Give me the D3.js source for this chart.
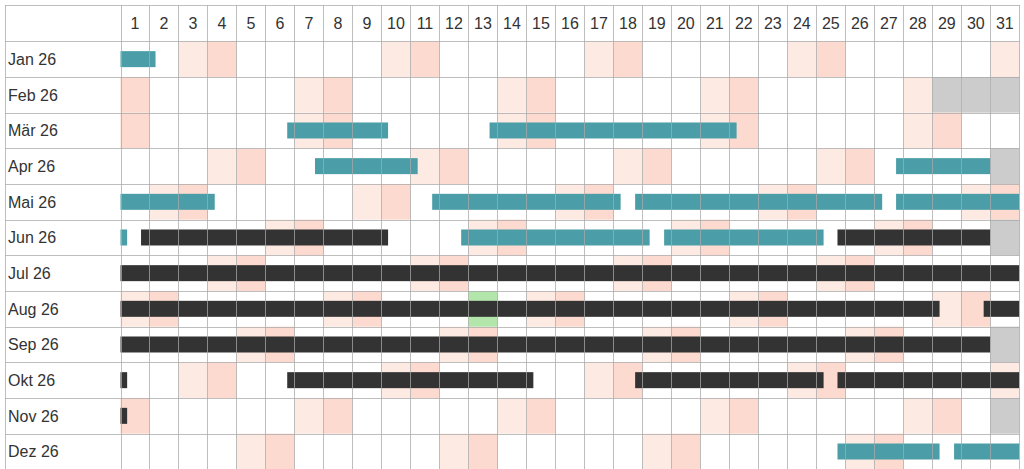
<!DOCTYPE html>
<html>
<head>
	<meta charset="utf-8">
	<script src="https://d3js.org/d3.v7.min.js"></script>
	<style type="text/css">
		body { margin: 0; background: #fff; }
		text { font-family: "Liberation Sans", Arial, sans-serif; fill: #333; }
	</style>
</head>
<body>
	<script type="text/javascript">
		var year = 2026;
		var monthLabels = ['Jan 26', 'Feb 26', 'Mär 26', 'Apr 26', 'Mai 26', 'Jun 26',
			'Jul 26', 'Aug 26', 'Sep 26', 'Okt 26', 'Nov 26', 'Dez 26'];
		var dayLabels = d3.range(1, 32).map(String);

		// teal periods
		var tealPeriods = [
			['2026-01-01T00:00', '2026-01-02T05:00'],
			['2026-03-06T18:00', '2026-03-10T05:30'],
			['2026-03-13T17:30', '2026-03-22T06:00'],
			['2026-04-07T17:00', '2026-04-11T06:00'],
			['2026-04-27T18:00', '2026-05-04T06:00'],
			['2026-05-11T18:00', '2026-05-18T06:00'],
			['2026-05-18T18:00', '2026-05-27T06:30'],
			['2026-05-27T18:00', '2026-06-01T05:30'],
			['2026-06-12T18:00', '2026-06-19T06:00'],
			['2026-06-19T18:00', '2026-06-25T06:00'],
			['2026-12-25T17:30', '2026-12-29T06:00'],
			['2026-12-29T18:00', '2027-01-01T00:00']
		];

		// dark periods
		var darkPeriods = [
			['2026-06-01T17:00', '2026-06-10T05:30'],
			['2026-06-25T17:30', '2026-08-29T06:00'],
			['2026-08-30T18:30', '2026-10-01T05:30'],
			['2026-10-06T18:00', '2026-10-15T05:45'],
			['2026-10-18T18:00', '2026-10-25T06:00'],
			['2026-10-25T17:30', '2026-11-01T05:30']
		];

		// highlighted single days
		var markedDays = ['2026-08-13'];

		var dim = { w: 1024, h: 469 };
		var grid = {
			left: 5, top: 5,
			colStart: 120.5, colEnd: 1019.3,
			headerBottom: 41.3, rowH: 35.67
		};

		var svg = d3.select('body')
			.append('svg')
				.attr('width', dim.w)
				.attr('height', dim.h);

		var x = d3.scaleLinear()
			.domain([1, 32])
			.range([grid.colStart, grid.colEnd]);

		var y = d3.scaleBand()
			.domain(d3.range(12))
			.range([grid.headerBottom, grid.headerBottom + 12 * grid.rowH]);

		var parseTime = d3.utcParse('%Y-%m-%dT%H:%M');
		var parseDay = d3.utcParse('%Y-%m-%d');

		/** Day cells: weekends, missing days, marked days **/
		var cells = [];
		d3.range(12).forEach(function(m) {
			var nDays = d3.utcDay.count(new Date(Date.UTC(year, m, 1)), new Date(Date.UTC(year, m + 1, 1)));
			d3.range(1, 32).forEach(function(d) {
				var type = null;
				if (d > nDays) {
					type = 'missing';
				} else {
					var wd = new Date(Date.UTC(year, m, d)).getUTCDay();
					if (wd === 6) type = 'sat';
					if (wd === 0) type = 'sun';
				}
				if (type) cells.push({ m: m, d: d, type: type });
			});
		});
		markedDays.forEach(function(s) {
			var t = parseDay(s);
			cells.push({ m: t.getUTCMonth(), d: t.getUTCDate(), type: 'marked' });
		});

		var cellColor = { sat: '#fdeae3', sun: '#fddacf', missing: '#cccccc', marked: '#b3e6aa' };

		svg.append('g')
			.selectAll('rect')
				.data(cells).enter()
			.append('rect')
				.attr('x', function(c) { return x(c.d); })
				.attr('y', function(c) { return y(c.m); })
				.attr('width', x(2) - x(1))
				.attr('height', y.bandwidth())
				.style('fill', function(c) { return cellColor[c.type]; });

		/** Split periods into month rows **/
		function toSegments(periods, color) {
			var segs = [];
			periods.forEach(function(p) {
				var s = parseTime(p[0]), e = parseTime(p[1]);
				d3.range(12).forEach(function(m) {
					var ms = new Date(Date.UTC(year, m, 1)), me = new Date(Date.UTC(year, m + 1, 1));
					var a = s > ms ? s : ms, b = e < me ? e : me;
					if (b > a) {
						segs.push({
							m: m,
							x0: 1 + (a - ms) / 864e5,
							x1: 1 + (b - ms) / 864e5,
							color: color
						});
					}
				});
			});
			return segs;
		}

		var segments = toSegments(tealPeriods, '#4b9ea7').concat(toSegments(darkPeriods, '#333333'));
		var barH = 16;

		svg.append('g')
			.selectAll('rect')
				.data(segments).enter()
			.append('rect')
				.attr('x', function(s) { return x(s.x0); })
				.attr('y', function(s) { return y(s.m) + (y.bandwidth() - barH) / 2; })
				.attr('width', function(s) { return x(s.x1) - x(s.x0); })
				.attr('height', barH)
				.style('fill', function(s) { return s.color; });

		/** Grid lines on top **/
		var gridG = svg.append('g')
			.attr('stroke', '#a8a8a8')
			.attr('stroke-opacity', 0.75)
			.attr('stroke-width', 1);

		var bottom = y(11) + y.bandwidth();
		var vLines = [grid.left].concat(d3.range(1, 33).map(function(d) { return x(d); }));
		gridG.selectAll('line.v')
			.data(vLines).enter()
			.append('line')
				.attr('class', 'v')
				.attr('x1', function(v) { return Math.round(v) + 0.5; })
				.attr('x2', function(v) { return Math.round(v) + 0.5; })
				.attr('y1', grid.top)
				.attr('y2', bottom);

		var hLines = [grid.top].concat(d3.range(12).map(function(m) { return y(m); }), [bottom]);
		gridG.selectAll('line.h')
			.data(hLines).enter()
			.append('line')
				.attr('class', 'h')
				.attr('x1', grid.left)
				.attr('x2', Math.round(grid.colEnd) + 0.5)
				.attr('y1', function(v) { return Math.round(v) + 0.5; })
				.attr('y2', function(v) { return Math.round(v) + 0.5; });

		/** Labels **/
		svg.append('g')
			.selectAll('text')
				.data(dayLabels).enter()
			.append('text')
				.attr('x', function(d, i) { return (x(i + 1) + x(i + 2)) / 2; })
				.attr('y', (grid.top + grid.headerBottom) / 2)
				.attr('dy', '0.36em')
				.attr('text-anchor', 'middle')
				.style('font-size', '16px')
				.text(function(d) { return d; });

		svg.append('g')
			.selectAll('text')
				.data(monthLabels).enter()
			.append('text')
				.attr('x', 8)
				.attr('y', function(d, i) { return y(i) + y.bandwidth() / 2; })
				.attr('dy', '0.36em')
				.style('font-size', '16px')
				.text(function(d) { return d; });
</script>
</body>
</html>
